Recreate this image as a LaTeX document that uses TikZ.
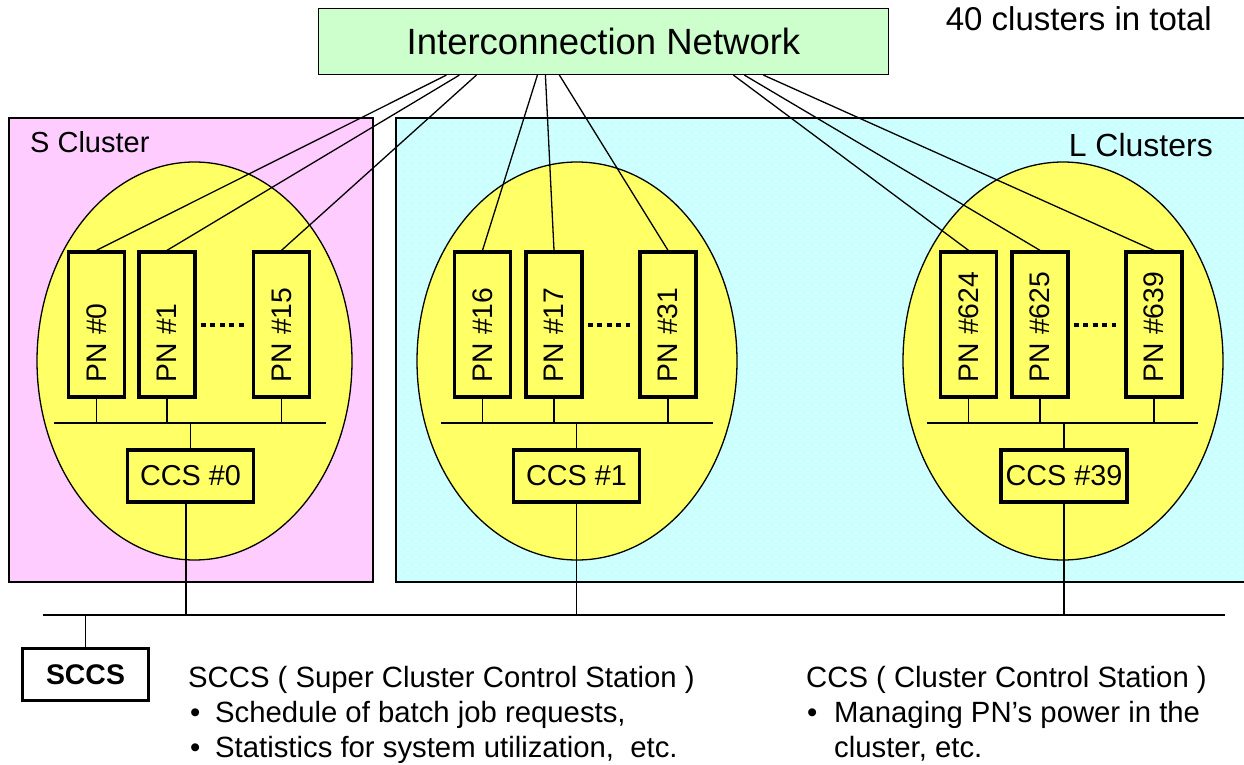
\documentclass[tikz,border=0pt]{standalone}
\usepackage{fontspec}
\setmainfont{Liberation Sans}
\usetikzlibrary{shapes.geometric,patterns.meta}

\definecolor{netgreen}{HTML}{CCFFCC}
\definecolor{spink}{HTML}{FFCCFF}
\definecolor{lcyan}{HTML}{CCFFFF}
\definecolor{ovalyellow}{HTML}{FFFF66}

\tikzset{
  netbox/.style={draw, line width=1.2pt, fill=netgreen, minimum width=570pt,
    minimum height=66pt, inner sep=0pt, font=\fontsize{36.5}{40}\selectfont},
  clusterbox/.style={draw, line width=1.3pt},
  oval/.style={ellipse, draw, line width=1.3pt, fill=ovalyellow,
    minimum height=398pt, inner sep=0pt},
  pnbox/.style={draw, line width=3.3pt, fill=ovalyellow, minimum width=56pt,
    minimum height=145pt, inner sep=0pt, font=\fontsize{28.3}{32}\selectfont},
  ccsbox/.style={draw, line width=3.3pt, fill=ovalyellow, minimum width=126pt,
    minimum height=52pt, inner sep=0pt, font=\fontsize{28.8}{32}\selectfont},
  link/.style={line width=1.3pt},
  bus/.style={line width=1.5pt},
  ellipsisdots/.style={line width=4pt, dash pattern=on 5pt off 4.5pt},
  desc/.style={anchor=base west, inner sep=0pt, font=\fontsize{29.3}{34}\selectfont},
}

% processing-node label, written bottom to top
\newcommand{\pnlabel}[1]{\rotatebox{90}{\makebox[115pt][l]{PN \##1}}}

\begin{document}
\begin{tikzpicture}[x=1pt,y=-1pt]
\useasboundingbox (0,0) rectangle (1244,765);

% cluster areas
\path[clusterbox, fill=spink] (9,118) rectangle (373,582);
\fill[lcyan] (396,118) rectangle (1250,582);
\fill[pattern={Dots[distance=8pt,radius=0.75pt]}, pattern color=white]
  (396,118) rectangle (1250,582);
\draw[clusterbox] (396,118) rectangle (1250,582);

\node[desc, font=\fontsize{29}{32}\selectfont] (slabel) at (30,153) {S Cluster};
\node[anchor=base east, inner sep=0pt, font=\fontsize{32}{36}\selectfont]
  (llabel) at (1213,156) {L Clusters};
\node[anchor=base east, inner sep=0pt, font=\fontsize{33}{36}\selectfont]
  (total) at (1212,31) {40 clusters in total};

% network
\node[netbox] (net) at (603.5,41.5) {Interconnection Network};

% clusters
\node[oval, minimum width=315pt] (ov0) at (194.5,361) {};
\node[oval, minimum width=320pt] (ov1) at (577,361) {};
\node[oval, minimum width=320pt] (ov2) at (1063,361) {};

\node[pnbox] (pn0)   at (96.5,324.5)  {\pnlabel{0}};
\node[pnbox] (pn1)   at (167,324.5)   {\pnlabel{1}};
\node[pnbox] (pn15)  at (281.5,324.5) {\pnlabel{15}};
\node[pnbox] (pn16)  at (482.5,324.5) {\pnlabel{16}};
\node[pnbox] (pn17)  at (554,324.5)   {\pnlabel{17}};
\node[pnbox] (pn31)  at (668,324.5)   {\pnlabel{31}};
\node[pnbox] (pn624) at (968.5,324.5) {\pnlabel{624}};
\node[pnbox] (pn625) at (1040,324.5)  {\pnlabel{625}};
\node[pnbox] (pn639) at (1154,324.5)  {\pnlabel{639}};

% links from the network to the processing nodes
\draw[link] ([xshift=128.5pt]net.south west) -- (pn0.north);
\draw[link] ([xshift=141.5pt]net.south west) -- (pn1.north);
\draw[link] ([xshift=158.5pt]net.south west) -- (pn15.north);
\draw[link] ([xshift=219.5pt]net.south west) -- (pn16.north);
\draw[link] ([xshift=227.5pt]net.south west) -- (pn17.north);
\draw[link] ([xshift=241.5pt]net.south west) -- (pn31.north);
\draw[link] ([xshift=415.5pt]net.south west) -- (pn624.north);
\draw[link] ([xshift=426.5pt]net.south west) -- (pn625.north);
\draw[link] ([xshift=445.5pt]net.south west) -- (pn639.north);

% "more nodes" dots
\draw[ellipsisdots] ([xshift=4pt]pn1.east) -- ([xshift=-8pt]pn15.west);
\draw[ellipsisdots] ([xshift=4pt]pn17.east) -- ([xshift=-8pt]pn31.west);
\draw[ellipsisdots] ([xshift=4pt]pn625.east) -- ([xshift=-8pt]pn639.west);

% cluster control stations
\node[ccsbox] (ccs0)  at (190.5,476) {CCS \#0};
\node[ccsbox] (ccs1)  at (576.5,476) {CCS \#1};
\node[ccsbox] (ccs39) at (1064,476)  {CCS \#39};

% local buses
\coordinate (bus0w) at (54,423);  \coordinate (bus0e) at (326,423);
\coordinate (bus1w) at (441,423); \coordinate (bus1e) at (713,423);
\coordinate (bus2w) at (927,423); \coordinate (bus2e) at (1198,423);
\draw[bus] (bus0w) -- (bus0e);
\draw[bus] (bus1w) -- (bus1e);
\draw[bus] (bus2w) -- (bus2e);
\foreach \p in {pn0,pn1,pn15} \draw[link] (\p.south) -- (\p.south |- bus0w);
\foreach \p in {pn16,pn17,pn31} \draw[link] (\p.south) -- (\p.south |- bus1w);
\foreach \p in {pn624,pn625,pn639} \draw[link] (\p.south) -- (\p.south |- bus2w);
\draw[link] (ccs0.north) -- (ccs0.north |- bus0w);
\draw[link] (ccs1.north) -- (ccs1.north |- bus1w);
\draw[link] (ccs39.north) -- (ccs39.north |- bus2w);

% control LAN
\coordinate (lanw) at (43,615); \coordinate (lane) at (1225,615);
\draw[bus] (lanw) -- (lane);
\draw[link] ([xshift=-4.5pt]ccs0.south) -- ([xshift=-4.5pt]ccs0.south |- lanw);
\draw[link] (ccs1.south) -- (ccs1.south |- lanw);
\draw[link] (ccs39.south) -- (ccs39.south |- lanw);

\node[ccsbox, fill=white, line width=2.6pt, font=\fontsize{28.4}{32}\selectfont\bfseries]
  (sccs) at (85.5,674.5) {SCCS};
\draw[link] (sccs.north) -- (sccs.north |- lanw);

% descriptions
\node[desc] (sccsdesc) at (188,687) {SCCS ( Super Cluster Control Station )};
\node[desc] (sccsb1) at (190,722) {\makebox[25pt][l]{•}Schedule of batch job requests,};
\node[desc] (sccsb2) at (190,757) {\makebox[25pt][l]{•}Statistics for system utilization,~ etc.};
\node[desc] (ccsdesc) at (806,687) {CCS ( Cluster Control Station )};
\node[desc] (ccsb1) at (807,722) {\makebox[27pt][l]{•}Managing PN’s power in the};
\node[desc] (ccsb2) at (834,757) {cluster, etc.};
\end{tikzpicture}
\end{document}
